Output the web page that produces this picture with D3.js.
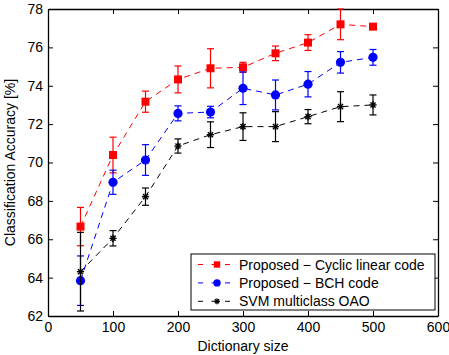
<!DOCTYPE html>
<html>
<head>
<meta charset="utf-8">
<script src="https://cdn.jsdelivr.net/npm/d3@7"></script>
<style>
  body { margin: 0; background: #fff; }
  svg { font-family: "Liberation Sans", Arial, sans-serif; }
</style>
</head>
<body>
<div id="chart"></div>
<script>
// data
const dictSizes = [50, 100, 150, 200, 250, 300, 350, 400, 450, 500];

const cyclicMean = [66.66, 70.39, 73.17, 74.33, 74.91, 74.96, 75.69, 76.25, 77.2, 77.08];
const cyclicErr  = [1.0, 0.93, 0.55, 0.7, 1.02, 0.26, 0.38, 0.41, 0.8, 0.08];

const bchMean = [63.84, 68.97, 70.13, 72.56, 72.63, 73.87, 73.52, 74.08, 75.22, 75.48];
const bchErr  = [1.29, 0.63, 0.8, 0.39, 0.3, 0.85, 0.78, 0.66, 0.56, 0.41];

const svmMean = [64.31, 66.05, 68.22, 70.86, 71.45, 71.87, 71.87, 72.39, 72.91, 73.0];
const svmErr  = [2.05, 0.4, 0.45, 0.37, 0.67, 0.72, 0.78, 0.37, 0.78, 0.52];

const xTicks = [0, 100, 200, 300, 400, 500, 600];
const yTicks = [62, 64, 66, 68, 70, 72, 74, 76, 78];

const seriesNames = ['Proposed \u2212 Cyclic linear code', 'Proposed \u2212 BCH code', 'SVM multiclass OAO'];

const series = [
  { name: seriesNames[0], mean: cyclicMean, err: cyclicErr, color: '#ff0000', marker: 'square' },
  { name: seriesNames[1], mean: bchMean, err: bchErr, color: '#0000ff', marker: 'circle' },
  { name: seriesNames[2], mean: svmMean, err: svmErr, color: '#000000', marker: 'star' },
];

const W = 449, H = 355;
const margin = { top: 9, right: 11, bottom: 39, left: 48 };
const width = W - margin.left - margin.right;
const height = H - margin.top - margin.bottom;

const svg = d3.select('#chart').append('svg')
  .attr('width', W).attr('height', H);

const g = svg.append('g')
  .attr('transform', `translate(${margin.left},${margin.top})`);

const x = d3.scaleLinear().domain([0, 600]).range([0, width]);
const y = d3.scaleLinear().domain([62, 78]).range([height, 0]);

// box + inward ticks on all four sides (matlab style)
const tickLen = 5;
const fontSize = 14;

g.append('g').attr('transform', `translate(0,${height})`)
  .call(d3.axisBottom(x).tickValues(xTicks).tickSizeInner(-tickLen).tickSizeOuter(0).tickPadding(6));
g.append('g')
  .call(d3.axisLeft(y).tickValues(yTicks).tickSizeInner(-tickLen).tickSizeOuter(0).tickPadding(5));
g.append('g')
  .call(d3.axisTop(x).tickValues(xTicks).tickSizeInner(-tickLen).tickSizeOuter(0).tickFormat(''));
g.append('g').attr('transform', `translate(${width},0)`)
  .call(d3.axisRight(y).tickValues(yTicks).tickSizeInner(-tickLen).tickSizeOuter(0).tickFormat(''));

g.selectAll('.domain').attr('stroke', '#000').attr('stroke-width', 1.3);
g.selectAll('.tick line').attr('stroke', '#000');
g.selectAll('.tick text').attr('font-size', fontSize).attr('fill', '#000')
  .attr('font-family', '"Liberation Sans", Arial, sans-serif');

// axis labels
svg.append('text')
  .attr('x', margin.left + width / 2)
  .attr('y', H - 4)
  .attr('text-anchor', 'middle')
  .attr('font-size', fontSize)
  .text('Dictionary size');

svg.append('text')
  .attr('transform', `translate(15,${margin.top + height / 2}) rotate(-90)`)
  .attr('text-anchor', 'middle')
  .attr('font-size', fontSize)
  .text('Classification Accuracy [%]');

const line = d3.line()
  .x((d) => x(d[0]))
  .y((d) => y(d[1]));

function drawMarker(sel, kind, color, k) {
  k = k || 1;
  if (kind === 'square') {
    sel.append('rect').attr('x', -4 * k).attr('y', -4 * k).attr('width', 8 * k).attr('height', 8 * k).attr('fill', color);
  } else if (kind === 'circle') {
    sel.append('circle').attr('r', 4.6 * k).attr('fill', color);
  } else {
    const r = 3.6 * k;
    [0, 45, 90, 135].forEach((a) => {
      const rad = (a * Math.PI) / 180;
      sel.append('line')
        .attr('x1', -r * Math.cos(rad)).attr('y1', -r * Math.sin(rad))
        .attr('x2', r * Math.cos(rad)).attr('y2', r * Math.sin(rad))
        .attr('stroke', color).attr('stroke-width', 1.4);
    });
  }
}

const capW = 3.5;

series.forEach((s) => {
  const pts = dictSizes.map((d, i) => [d, s.mean[i], s.err[i]]);

  g.append('path')
    .datum(pts)
    .attr('fill', 'none')
    .attr('stroke', s.color)
    .attr('stroke-width', 1)
    .attr('stroke-dasharray', '6,5')
    .attr('d', line);

  const eb = g.selectAll(null).data(pts).enter().append('g')
    .attr('stroke', s.color).attr('stroke-width', 1.2);
  eb.append('line')
    .attr('x1', (d) => x(d[0])).attr('x2', (d) => x(d[0]))
    .attr('y1', (d) => y(d[1] - d[2])).attr('y2', (d) => y(d[1] + d[2]));
  eb.append('line')
    .attr('x1', (d) => x(d[0]) - capW).attr('x2', (d) => x(d[0]) + capW)
    .attr('y1', (d) => y(d[1] + d[2])).attr('y2', (d) => y(d[1] + d[2]));
  eb.append('line')
    .attr('x1', (d) => x(d[0]) - capW).attr('x2', (d) => x(d[0]) + capW)
    .attr('y1', (d) => y(d[1] - d[2])).attr('y2', (d) => y(d[1] - d[2]));

  g.selectAll(null).data(pts).enter().append('g')
    .attr('transform', (d) => `translate(${x(d[0])},${y(d[1])})`)
    .each(function () { drawMarker(d3.select(this), s.marker, s.color); });
});

// legend
const lgX = 191, lgY = 254, lgW = 244, lgH = 56;
const legend = svg.append('g');
legend.append('rect')
  .attr('x', lgX).attr('y', lgY).attr('width', lgW).attr('height', lgH)
  .attr('fill', '#fff').attr('stroke', '#000').attr('stroke-width', 1);

series.forEach((s, i) => {
  const ry = lgY + 10.5 + i * 18.4;
  const row = legend.append('g');
  row.append('line')
    .attr('x1', lgX + 7).attr('x2', lgX + 42).attr('y1', ry).attr('y2', ry)
    .attr('stroke', s.color).attr('stroke-width', 1).attr('stroke-dasharray', '5,8.5');
  const m = row.append('g').attr('transform', `translate(${lgX + 26},${ry})`);
  drawMarker(m, s.marker, s.color, 0.8);
  row.append('text')
    .attr('x', lgX + 48).attr('y', ry + 5)
    .attr('font-size', fontSize)
    .text(s.name);
});
</script>
</body>
</html>
